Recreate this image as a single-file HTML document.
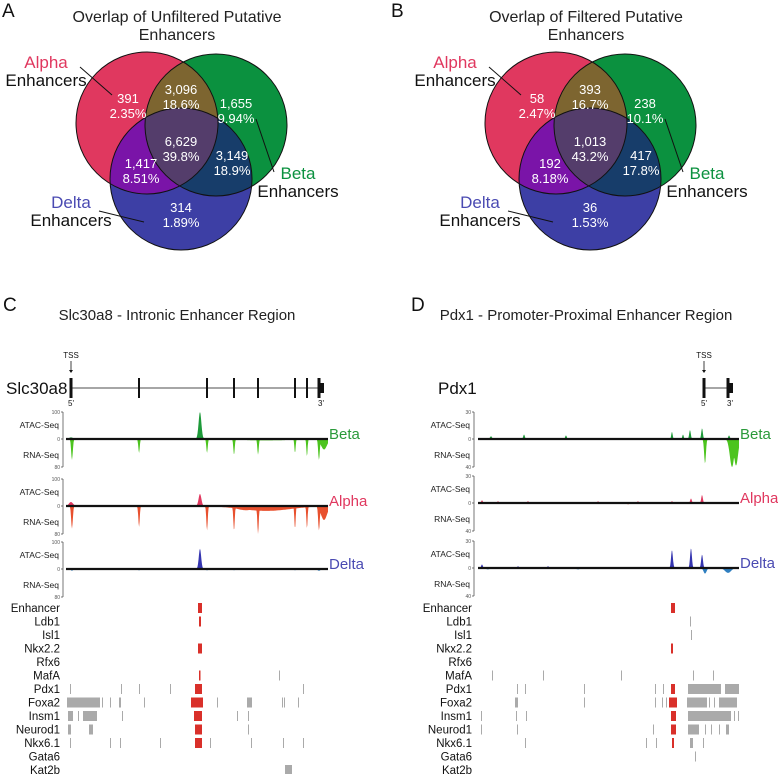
<!DOCTYPE html>
<html><head><meta charset="utf-8">
<style>
html,body{margin:0;padding:0;background:#fff;}
svg{display:block;font-family:"Liberation Sans",Arial,sans-serif;}
</style></head>
<body>
<svg id="fig" width="778" height="774" viewBox="0 0 778 774" xmlns="http://www.w3.org/2000/svg">
<defs>
<clipPath id="cR"><circle cx="147" cy="123" r="71"/></clipPath>
<clipPath id="cG"><circle cx="216" cy="125" r="71"/></clipPath>
<clipPath id="cB"><circle cx="181" cy="179" r="71"/></clipPath>
</defs>
<g id="venns"></g>
<g id="tracks"></g>
</svg>
<script>
// ---------------- Venn data ----------------
const vennA_counts = ["391","3,096","1,655","6,629","1,417","3,149","314"];
const vennA_pcts = ["2.35%","18.6%","9.94%","39.8%","8.51%","18.9%","1.89%"];
const vennB_counts = ["58","393","238","1,013","192","417","36"];
const vennB_pcts = ["2.47%","16.7%","10.1%","43.2%","8.18%","17.8%","1.53%"];

// ---------------- Track data: panel C (0..262) ----------------
const cExons = [5,73,141,168,192,229,241,253];
const cBetaAtac = [[134,100,1.4],[5,6,2],[60,2,20],[110,2,20]];
const cBetaRna = [[6,60,0.8],[73,40,0.7],[141,40,0.7],[168,45,0.7],[192,45,0.7],[229,40,0.6],[241,50,0.6],[253,60,0.8],[258,30,3],[200,4,25]];
const cAlphaAtac = [[134,45,1.4],[5,15,2],[60,2,20],[160,2,20],[210,3,15]];
const cAlphaRna = [[6,65,0.8],[73,60,0.7],[141,70,0.7],[168,70,0.7],[192,80,0.7],[229,65,0.6],[241,65,0.6],[253,70,0.8],[258,40,3],[200,14,25],[180,12,10]];
const cDeltaAtac = [[134,75,1.2],[5,3,2]];
const cDeltaRna = [[6,5,1],[73,4,0.8],[141,4,0.8],[168,4,0.8],[229,4,0.8],[253,5,1.5]];

// ---------------- Track data: panel D (0..261) ----------------
const dExons = [226,250];
const dBetaAtac = [[13,3,1],[46,5,0.8],[88,4,0.8],[194,8,0.7],[205,5,0.7],[212,10,0.8],[224,12,0.8],[251,4,0.8]];
const dBetaRna = [[227,35,0.9],[254,40,2.2],[258,38,2]];
const dAlphaAtac = [[4,3,0.8],[20,2,0.8],[50,2,0.8],[120,2,0.8],[160,2,0.8],[194,2,0.8],[213,5,0.8],[224,9,0.8]];
const dAlphaRna = [[150,2,1]];
const dDeltaAtac = [[4,4,0.8],[40,2,0.8],[70,2,0.8],[194,20,0.9],[213,22,0.9],[224,15,0.9]];
const dDeltaRna = [[227,8,1.5],[250,7,3],[10,2,2],[100,2,2]];

// ---------------- TF binding rows ----------------
const tfNames = ["Enhancer","Ldb1","Isl1","Nkx2.2","Rfx6","MafA","Pdx1","Foxa2","Insm1","Neurod1","Nkx6.1","Gata6","Kat2b"];
const cTfGrey = [[],[],[],[],[],[[213,214]],
 [[4,5],[55,56],[73,74],[104,105],[237,238]],
 [[1,34],[36,37],[44,45],[53,55],[78,79],[151,152],[181,186],[216,217],[218,219],[232,233]],
 [[2,7],[12,13],[17,31],[56,57],[171,172],[182,183]],
 [[2,5],[23,27],[182,183]],
 [[4,5],[44,45],[54,55],[94,95],[144,145],[185,186],[217,218],[237,238]],
 [],[[219,226]]];
const cTfRed = [[[132,136]],[[133,135]],[],[[132,136]],[],[[133,134]],[[129,136]],[[125,137]],[[128,136]],[[129,136]],[[129,136]],[],[]];
const dTfGrey = [[],[[212,213]],[[213,214]],[],[],[[14,15],[65,66],[143,144],[215,216],[235,236]],
 [[39,40],[47,48],[106,107],[177,178],[185,186],[210,243],[247,261]],
 [[37,40],[106,107],[177,178],[184,185],[188,189],[209,229],[231,232],[236,237],[241,259]],
 [[3,4],[38,39],[48,49],[210,253],[256,257],[260,261]],
 [[3,4],[39,40],[175,176],[210,221],[227,228],[233,234],[241,242],[248,251]],
 [[47,48],[168,169],[178,179],[212,215],[225,226]],
 [[217,218]],[]];
const dTfRed = [[[193,197]],[],[],[[193,195]],[],[],[[193,197]],[[191,199]],[[193,198]],[[193,198]],[[194,196]],[],[]];

const NS="http://www.w3.org/2000/svg";
function el(tag, attrs, parent, text){
  const e=document.createElementNS(NS,tag);
  for(const k in attrs) e.setAttribute(k,attrs[k]);
  if(text!==undefined) e.textContent=text;
  parent.appendChild(e); return e;
}

// ---------- Venns ----------
const vg=document.getElementById('venns');
function drawVenn(dx, titleLines, counts, pcts, letter, letterX){
  const g=el('g',{transform:'translate('+dx+',0)'},vg);
  
  
  const L=el('text',{x:letterX-dx,y:17,'font-size':19,fill:'#111'},g,letter);
  
  
  titleLines.forEach((t,i)=>{
    const tt=el('text',{x:177,y:22+i*18,'font-size':16,'text-anchor':'middle',fill:'#222'},g,t);
    
    
  });
  el('circle',{cx:147,cy:123,r:71,fill:'#e0385f'},g);
  el('circle',{cx:216,cy:125,r:71,fill:'#0b913f'},g);
  el('circle',{cx:181,cy:179,r:71,fill:'#3d3fa5'},g);
  el('circle',{cx:216,cy:125,r:71,fill:'#7d6530','clip-path':'url(#cR)'},g);
  el('circle',{cx:181,cy:179,r:71,fill:'#7a14a8','clip-path':'url(#cR)'},g);
  el('circle',{cx:181,cy:179,r:71,fill:'#173d6a','clip-path':'url(#cG)'},g);
  const gi=el('g',{'clip-path':'url(#cR)'},g);
  el('circle',{cx:181,cy:179,r:71,fill:'#543d6b','clip-path':'url(#cG)'},gi);
  [[147,123],[216,125],[181,179]].forEach(c=>el('circle',{cx:c[0],cy:c[1],r:71,fill:'none',stroke:'#111','stroke-width':1},g));
  const pos=[[128,103],[181,94],[236,108],[181,146],[141,168],[232,160],[181,212]];
  pos.forEach((p,i)=>{
    const a=el('text',{x:p[0],y:p[1],'font-size':13,'text-anchor':'middle',fill:'#fff'},g,counts[i]);
    
    
    const b=el('text',{x:p[0],y:p[1]+15,'font-size':13,'text-anchor':'middle',fill:'#fff'},g,pcts[i]);
    
    
  });
  const labs=[["Alpha","#e0385f",46,68,[80,67,112,95]],["Beta","#0b913f",298,179,[256,119,274,172]],["Delta","#4a4ab2",71,208,[99,211,144,222]]];
  labs.forEach(l=>{
    const a=el('text',{x:l[2],y:l[3],'font-size':17,'text-anchor':'middle',fill:l[1]},g,l[0]);
    
    
    el('text',{x:l[2],y:l[3]+18,'font-size':17,'text-anchor':'middle',fill:'#111'},g,'Enhancers');
    el('line',{x1:l[4][0],y1:l[4][1],x2:l[4][2],y2:l[4][3],stroke:'#111','stroke-width':1},g);
  });
}
drawVenn(0,["Overlap of Unfiltered Putative","Enhancers"],vennA_counts,vennA_pcts,"A",2);
drawVenn(409,["Overlap of Filtered Putative","Enhancers"],vennB_counts,vennB_pcts,"B",391);

// ---------- Tracks ----------
const tg=document.getElementById('tracks');
function peaksPath(xs, zeroY, pxPerUnit, peaks, dir, lo, hi){
  let pts=[];
  const N=520;
  for(let i=0;i<=N;i++){
    const v=lo+(hi-lo)*i/N;
    let h=0;
    peaks.forEach(p=>{const d=(v-p[0])/p[2]; if(Math.abs(d)<3){h=Math.max(h,p[1]*Math.exp(-d*d/2));}});
    pts.push([xs(v), zeroY + dir*h*pxPerUnit]);
  }
  return 'M'+xs(lo)+','+zeroY+' '+pts.map(p=>'L'+p[0].toFixed(1)+','+p[1].toFixed(1)).join(' ')+' L'+xs(hi)+','+zeroY+'Z';
}
function drawPanel(o){
  const g=el('g',{},tg);
  
  
  const xs=v=>o.x0+(v-o.lo)/(o.hi-o.lo)*(o.x1-o.x0);
  const L=el('text',{x:o.letterX,y:o.letterY,'font-size':19,fill:'#111'},g,o.letter);
  
  
  const T=el('text',{x:o.titleX,y:320,'font-size':15,'text-anchor':'middle',fill:'#222'},g,o.title);
  
  
  const gy=388;
  const gn=el('text',{x:o.geneLabelX,y:gy+6,'font-size':17,fill:'#111'},g,o.gene);
  
  
  el('line',{x1:xs(o.exons[0]),y1:gy,x2:xs(o.exons[o.exons.length-1]),y2:gy,stroke:'#888','stroke-width':1.5},g);
  o.exons.forEach((e,i)=>{
    const last=i===o.exons.length-1, first=i===0;
    const w=first?3:(last?3:2);
    const ex=el('rect',{x:xs(e)-w/2,y:gy-10,width:w,height:20,fill:'#111'},g);
    
    
    if(last) el('rect',{x:xs(e),y:gy-5,width:5,height:10,fill:'#111'},g);
  });
  const tssx=xs(o.exons[0]);
  el('text',{x:tssx,y:gy-30,'font-size':8,'text-anchor':'middle',fill:'#111'},g,'TSS');
  el('line',{x1:tssx,y1:gy-27,x2:tssx,y2:gy-17,stroke:'#111','stroke-width':0.8},g);
  el('path',{d:'M'+(tssx-2)+','+(gy-18)+' L'+(tssx+2)+','+(gy-18)+' L'+tssx+','+(gy-15)+'Z',fill:'#111'},g);
  el('text',{x:tssx,y:gy+18,'font-size':8,'text-anchor':'middle',fill:'#111'},g,"5'");
  el('text',{x:xs(o.exons[o.exons.length-1])+2,y:gy+18,'font-size':8,'text-anchor':'middle',fill:'#111'},g,"3'");
  o.tracks.forEach((t,ti)=>{
    const z=t.zero;
    const tgp=el('g',{},g);
    
    
    el('line',{x1:o.axisX,y1:z-27,x2:o.axisX,y2:z+28,stroke:'#555','stroke-width':0.8},tgp);
    [[z-27,o.topTick],[z,'0'],[z+28,o.botTick]].forEach(tk=>{
      el('line',{x1:o.axisX-2,y1:tk[0],x2:o.axisX,y2:tk[0],stroke:'#555','stroke-width':0.8},tgp);
      el('text',{x:o.axisX-3,y:tk[0]+2,'font-size':5,'text-anchor':'end',fill:'#555'},tgp,tk[1]);
    });
    el('text',{x:o.axisX-4,y:z-11,'font-size':8.5,'text-anchor':'end',fill:'#222'},tgp,'ATAC-Seq');
    el('text',{x:o.axisX-4,y:z+19,'font-size':8.5,'text-anchor':'end',fill:'#222'},tgp,'RNA-Seq');
    const a=el('path',{d:peaksPath(xs,z,27/o.topMax,t.atac,-1,o.lo,o.hi),fill:t.atacColor},tgp);
    
    
    const r=el('path',{d:peaksPath(xs,z,28/o.botMax,t.rna,1,o.lo,o.hi),fill:t.rnaColor},tgp);
    
    
    el('line',{x1:o.x0,y1:z,x2:o.x1,y2:z,stroke:'#111','stroke-width':2.2},tgp);
    const nl=el('text',{x:o.x1+1,y:z,'font-size':15,fill:t.nameColor},tgp,t.label);
    
    
  });
  tfNames.forEach((n,i)=>{
    const y=608+i*13.5;
    const rg=el('g',{},g);
    
    
    el('text',{x:o.tfLabelX,y:y+4,'font-size':11.5,'text-anchor':'end',fill:'#111'},rg,n);
    o.grey[i].forEach(s=>{
      const w=Math.max(1,xs(s[1])-xs(s[0]));
      el('rect',{x:xs(s[0]),y:y-5,width:w,height:10,fill:'#aaa'},rg);
    });
    o.red[i].forEach(s=>{
      const w=Math.max(1.5,xs(s[1])-xs(s[0]));
      el('rect',{x:xs(s[0]),y:y-5,width:w,height:10,fill:'#d9302a'},rg);
    });
  });
}
drawPanel({name:'panel-c',letter:'C',letterX:3,letterY:311,title:'Slc30a8 - Intronic Enhancer Region',titleX:177,
  gene:'Slc30a8',geneLabelX:6,exons:cExons,x0:66,x1:328,lo:0,hi:262,axisX:63,topTick:'100',botTick:'80',topMax:100,botMax:80,tfLabelX:60,
  tracks:[{zero:439,label:'Beta',nameColor:'#2a9a3a',atacColor:'#1e9a3a',rnaColor:'#4cc41e',atac:cBetaAtac,rna:cBetaRna},
          {zero:506,label:'Alpha',nameColor:'#e0385f',atacColor:'#e0385f',rnaColor:'#e8502e',atac:cAlphaAtac,rna:cAlphaRna},
          {zero:569,label:'Delta',nameColor:'#4a4ab2',atacColor:'#3535b0',rnaColor:'#2f7fc0',atac:cDeltaAtac,rna:cDeltaRna}],
  grey:cTfGrey,red:cTfRed});
drawPanel({name:'panel-d',letter:'D',letterX:411,letterY:311,title:'Pdx1 - Promoter-Proximal Enhancer Region',titleX:586,
  gene:'Pdx1',geneLabelX:438,exons:dExons,x0:478,x1:739,lo:0,hi:261,axisX:474,topTick:'30',botTick:'40',topMax:30,botMax:40,tfLabelX:472,
  tracks:[{zero:439,label:'Beta',nameColor:'#2a9a3a',atacColor:'#1e9a3a',rnaColor:'#4cc41e',atac:dBetaAtac,rna:dBetaRna},
          {zero:503,label:'Alpha',nameColor:'#e0385f',atacColor:'#e0385f',rnaColor:'#e8502e',atac:dAlphaAtac,rna:dAlphaRna},
          {zero:568,label:'Delta',nameColor:'#4a4ab2',atacColor:'#3535b0',rnaColor:'#2f7fc0',atac:dDeltaAtac,rna:dDeltaRna}],
  grey:dTfGrey,red:dTfRed});
</script>
</body></html>
